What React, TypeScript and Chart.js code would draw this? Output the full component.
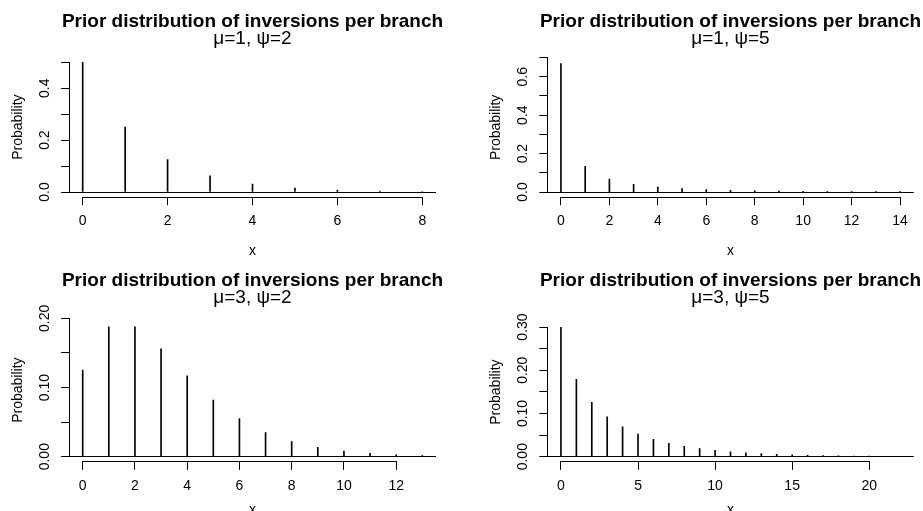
import React, { useEffect, useRef } from "react";
import { Chart, registerables } from "chart.js";

Chart.register(...registerables);

const FONT = "'Liberation Sans', Arial, Helvetica, sans-serif";

// ---------- data ----------
const mainTitle = "Prior distribution of inversions per branch";
const yAxisTitle = "Probability";
const xAxisTitle = "x";

// Panel 1: mu=1, psi=2
const sub1 = "μ=1, ψ=2";
const x1 = [0, 1, 2, 3, 4, 5, 6, 7, 8];
const p1 = [0.5, 0.25, 0.125, 0.0625, 0.031, 0.0156, 0.0078, 0.0039, 0.002];
const xTicks1 = [0, 2, 4, 6, 8];
const yTicks1 = [0, 0.1, 0.2, 0.3, 0.4, 0.5];
const yLabels1 = ["0.0", "", "0.2", "", "0.4", ""];

// Panel 2: mu=1, psi=5
const sub2 = "μ=1, ψ=5";
const x2 = [0, 1, 2, 3, 4, 5, 6, 7, 8, 9, 10, 11, 12, 13, 14];
const p2 = [0.669, 0.134, 0.067, 0.04, 0.026, 0.0177, 0.0124, 0.0089, 0.0064, 0.0047, 0.0035, 0.0026, 0.002, 0.0015, 0.0011];
const xTicks2 = [0, 2, 4, 6, 8, 10, 12, 14];
const yTicks2 = [0, 0.1, 0.2, 0.3, 0.4, 0.5, 0.6, 0.7];
const yLabels2 = ["0.0", "", "0.2", "", "0.4", "", "0.6", ""];

// Panel 3: mu=3, psi=2
const sub3 = "μ=3, ψ=2";
const x3 = [0, 1, 2, 3, 4, 5, 6, 7, 8, 9, 10, 11, 12, 13];
const p3 = [0.125, 0.1875, 0.1875, 0.156, 0.117, 0.082, 0.055, 0.035, 0.022, 0.0134, 0.0081, 0.0048, 0.0028, 0.0016];
const xTicks3 = [0, 2, 4, 6, 8, 10, 12];
const yTicks3 = [0, 0.05, 0.1, 0.15, 0.2];
const yLabels3 = ["0.00", "", "0.10", "", "0.20"];

// Panel 4: mu=3, psi=5
const sub4 = "μ=3, ψ=5";
const x4 = [0, 1, 2, 3, 4, 5, 6, 7, 8, 9, 10, 11, 12, 13, 14, 15, 16, 17, 18, 19, 20, 21, 22];
const p4 = [0.299, 0.179, 0.126, 0.092, 0.069, 0.0525, 0.04, 0.031, 0.024, 0.0187, 0.0146, 0.0114, 0.0089, 0.007, 0.0055, 0.0043, 0.0034, 0.0027, 0.0021, 0.0017, 0.0013, 0.001, 0.0008];
const xTicks4 = [0, 5, 10, 15, 20];
const yTicks4 = [0, 0.05, 0.1, 0.15, 0.2, 0.25, 0.3];
const yLabels4 = ["0.00", "", "0.10", "", "0.20", "", "0.30"];

// ---------- layout ----------
type Panel = {
  sub: string; xs: number[]; ps: number[]; xTicks: number[]; yTicks: number[]; yLabels: string[];
  xMin: number; xMax: number; yMin: number; yMax: number;
  left: number; top: number; cw: number; ch: number;
  L: number; R: number; T: number; B: number;
  titleBase: number; subBase: number; xTitleCenter: number; widest: number;
};

const panels: Panel[] = [
  { sub: sub1, xs: x1, ps: p1, xTicks: xTicks1, yTicks: yTicks1, yLabels: yLabels1,
    xMin: -0.32, xMax: 8.32, yMin: -0.02, yMax: 0.52,
    left: 0, top: 0, cw: 461, ch: 255, L: 69.1, R: 435.9, T: 57.1, B: 197.2,
    titleBase: 27, subBase: 44, xTitleCenter: 251.5, widest: 19.5 },
  { sub: sub2, xs: x2, ps: p2, xTicks: xTicks2, yTicks: yTicks2, yLabels: yLabels2,
    xMin: -0.56, xMax: 14.56, yMin: -0.0268, yMax: 0.7,
    left: 461, top: 0, cw: 462, ch: 255, L: 86.4, R: 452.6, T: 57.5, B: 197.2,
    titleBase: 27, subBase: 44, xTitleCenter: 251.5, widest: 19.5 },
  { sub: sub3, xs: x3, ps: p3, xTicks: xTicks3, yTicks: yTicks3, yLabels: yLabels3,
    xMin: -0.52, xMax: 13.52, yMin: -0.0075, yMax: 0.2,
    left: 0, top: 255, cw: 461, ch: 256, L: 69.1, R: 435.9, T: 63.3, B: 206.9,
    titleBase: 30.7, subBase: 47.7, xTitleCenter: 255.5, widest: 27.2 },
  { sub: sub4, xs: x4, ps: p4, xTicks: xTicks4, yTicks: yTicks4, yLabels: yLabels4,
    xMin: -0.88, xMax: 22.88, yMin: -0.012, yMax: 0.311,
    left: 461, top: 255, cw: 462, ch: 256, L: 86.4, R: 452.6, T: 67.25, B: 206.9,
    titleBase: 30.7, subBase: 47.7, xTitleCenter: 255.5, widest: 27.2 },
];

const TS = 19; // title size
const SS = 19; // subtitle size
const AS = 14; // axis text size

function align(px: number) {
  return Math.round(px - 0.5) + 0.5;
}

function drawAxisLines(chart: any, pn: Panel) {
  const ctx = chart.ctx;
  const ca = chart.chartArea;
  const xs = chart.scales.x;
  const ys = chart.scales.y;
  ctx.save();
  ctx.lineWidth = 1;
  ctx.strokeStyle = "#000";
  // x axis line, from the first to the last tick
  const yb = align(ca.bottom);
  ctx.beginPath();
  ctx.moveTo(align(xs.getPixelForValue(pn.xTicks[0])) - 0.5, yb);
  ctx.lineTo(align(xs.getPixelForValue(pn.xTicks[pn.xTicks.length - 1])) + 0.5, yb);
  ctx.stroke();
  // reference line at 0 across the plot region
  const y0 = align(ys.getPixelForValue(0));
  ctx.beginPath();
  ctx.moveTo(ca.left, y0);
  ctx.lineTo(ca.right, y0);
  ctx.stroke();
  // y axis line, from the first to the last tick
  const xa = align(ca.left);
  ctx.beginPath();
  ctx.moveTo(xa, align(ys.getPixelForValue(pn.yTicks[0])) + 0.5);
  ctx.lineTo(xa, align(ys.getPixelForValue(pn.yTicks[pn.yTicks.length - 1])) - 0.5);
  ctx.stroke();
  ctx.restore();
}

function makeConfig(pn: Panel): any {
  const xTitlePb = pn.ch - AS / 2 - pn.xTitleCenter;
  const yTitlePt = pn.L - 51.2 - AS / 2;
  const yTickPad = 24.1 - 8 - pn.widest / 2;

  const rStyle = {
    id: "rStyle",
    afterDatasetsDraw(chart: any) {
      drawAxisLines(chart, pn);
    },
    afterDraw(chart: any) {
      drawAxisLines(chart, pn);
      const ctx = chart.ctx;
      const ca = chart.chartArea;
      const cx = (ca.left + ca.right) / 2;
      ctx.save();
      ctx.fillStyle = "#000";
      ctx.textAlign = "center";
      ctx.textBaseline = "alphabetic";
      ctx.font = `bold ${TS}px ${FONT}`;
      ctx.fillText(mainTitle, cx, pn.titleBase);
      ctx.font = `normal ${SS}px ${FONT}`;
      ctx.fillText(pn.sub, cx, pn.subBase);
      ctx.restore();
    },
  };

  return {
    type: "bar",
    data: {
      datasets: [
        {
          data: pn.xs.map((x, i) => ({ x, y: pn.ps[i] })),
          backgroundColor: "#000",
          borderWidth: 0,
          barThickness: 1,
          grouped: false,
        },
      ],
    },
    options: {
      animation: false,
      responsive: false,
      maintainAspectRatio: false,
      devicePixelRatio: 1,
      layout: { padding: { left: 0, right: pn.cw - pn.R, top: pn.T, bottom: 0 } },
      events: [],
      plugins: {
        legend: { display: false },
        tooltip: { enabled: false },
        title: { display: false },
        subtitle: { display: false },
      },
      scales: {
        x: {
          type: "linear",
          position: "bottom",
          min: pn.xMin,
          max: pn.xMax,
          offset: false,
          afterBuildTicks: (s: any) => {
            s.ticks = pn.xTicks.map((v) => ({ value: v }));
          },
          afterFit: (s: any) => {
            s.height = pn.ch - pn.B;
          },
          grid: { display: true, offset: false, drawOnChartArea: false, drawTicks: true, tickLength: 8, color: "#000", lineWidth: 1 },
          border: { display: false },
          ticks: {
            autoSkip: false, minRotation: 0, maxRotation: 0, padding: 7.5, color: "#000",
            font: { family: FONT, size: AS },
            callback: (v: any) => String(v),
          },
          title: {
            display: true, text: xAxisTitle, color: "#000",
            font: { family: FONT, size: AS, lineHeight: 1 },
            padding: { top: 0, bottom: xTitlePb },
          },
        },
        y: {
          type: "linear",
          position: "left",
          min: pn.yMin,
          max: pn.yMax,
          afterBuildTicks: (s: any) => {
            s.ticks = pn.yTicks.map((v) => ({ value: v }));
          },
          afterFit: (s: any) => {
            s.width = pn.L;
          },
          grid: { display: true, drawOnChartArea: false, drawTicks: true, tickLength: 8, color: "#000", lineWidth: 1 },
          border: { display: false },
          ticks: {
            autoSkip: false, minRotation: 90, maxRotation: 90, crossAlign: "center",
            padding: yTickPad, color: "#000",
            font: { family: FONT, size: AS },
            callback: (_v: any, i: number) => pn.yLabels[i],
          },
          title: {
            display: true, text: yAxisTitle, color: "#000",
            font: { family: FONT, size: AS, lineHeight: 1 },
            padding: { top: yTitlePt, bottom: 0 },
          },
        },
      },
    },
    plugins: [rStyle],
  };
}

function PanelChart({ pn }: { pn: Panel }) {
  const ref = useRef<HTMLCanvasElement | null>(null);
  useEffect(() => {
    const canvas = ref.current;
    if (!canvas) return;
    canvas.getContext("2d", { willReadFrequently: true });
    const chart = new Chart(canvas, makeConfig(pn));
    return () => chart.destroy();
  }, [pn]);
  return (
    <canvas
      ref={ref}
      width={pn.cw}
      height={pn.ch}
      style={{ position: "absolute", left: pn.left, top: pn.top, width: pn.cw, height: pn.ch }}
    />
  );
}

export default function App() {
  return (
    <div
      style={{
        position: "absolute",
        left: 0,
        top: 0,
        width: 923,
        height: 511,
        overflow: "hidden",
        background: "#fff",
      }}
    >
      {panels.map((pn, i) => (
        <PanelChart key={i} pn={pn} />
      ))}
    </div>
  );
}
